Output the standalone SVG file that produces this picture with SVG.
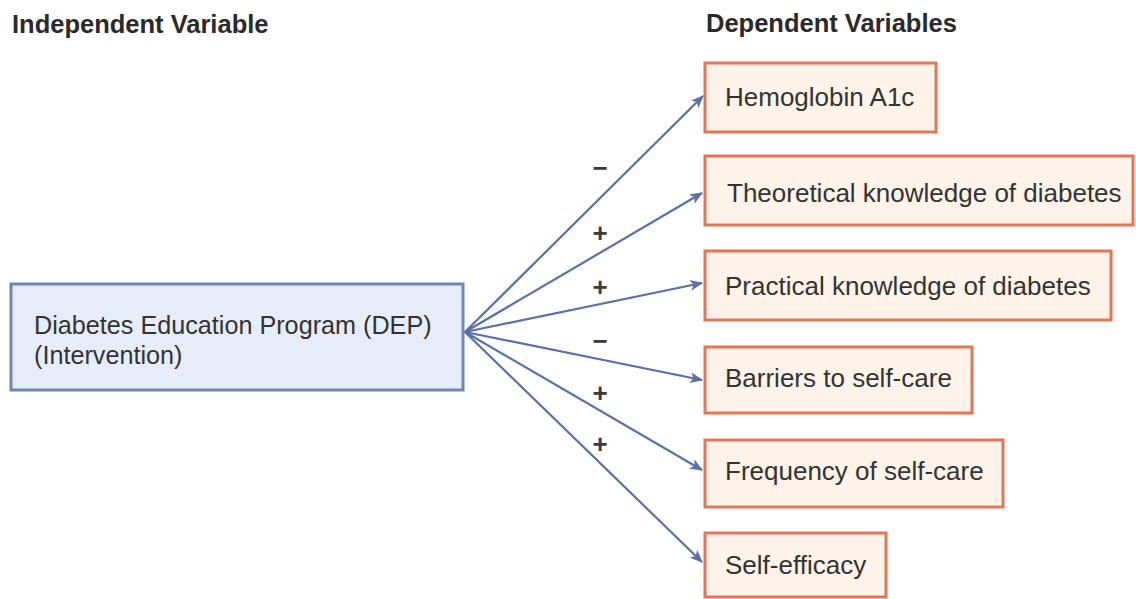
<svg xmlns="http://www.w3.org/2000/svg" width="1136" height="599" viewBox="0 0 1136 599">
  <defs>
    <marker id="arrow" viewBox="0 0 12 10" refX="11" refY="5" markerWidth="13" markerHeight="11" markerUnits="userSpaceOnUse" orient="auto">
      <path d="M0,0 L12,5 L0,10 L3,5 Z" fill="#5a70ab"/>
    </marker>
  </defs>
  <style>
    .title { font-family: "Liberation Sans", Arial, sans-serif; font-weight: bold; font-size: 25.5px; fill: #2a2a2a; }
    .lbl { font-family: "Liberation Sans", Arial, sans-serif; font-size: 26px; fill: #333333; }
    .lbl.iv-text { font-size: 25.2px; }
    .dv rect { fill: #fdf3e8; stroke: #e27656; stroke-width: 3; }
    .iv rect { fill: #e7edf8; stroke: #6f86b4; stroke-width: 3; }
    .link { fill: none; stroke: #5a70ab; stroke-width: 2.2; marker-end: url(#arrow); }
    .sign { font-family: "Liberation Sans", Arial, sans-serif; font-weight: bold; font-size: 26px; fill: #3a3a3a; text-anchor: middle; }
  </style>
  <rect width="1136" height="599" fill="#ffffff"/>

  <text class="title" x="12" y="33">Independent Variable</text>
  <text class="title" x="706" y="32">Dependent Variables</text>

  <g id="dep" class="iv">
    <rect x="11" y="284" width="452" height="106"/>
    <text class="lbl iv-text" x="34" y="334">Diabetes Education Program (DEP)</text>
    <text class="lbl iv-text" x="34" y="364">(Intervention)</text>
  </g>

  <g id="hba1c" class="dv">
    <rect x="705" y="63" width="231" height="69"/>
    <text class="lbl" x="725" y="106">Hemoglobin A1c</text>
  </g>
  <g id="theoretical" class="dv">
    <rect x="705" y="156" width="428" height="69"/>
    <text class="lbl" x="727" y="202">Theoretical knowledge of diabetes</text>
  </g>
  <g id="practical" class="dv">
    <rect x="705" y="251" width="406" height="69"/>
    <text class="lbl" x="725" y="295">Practical knowledge of diabetes</text>
  </g>
  <g id="barriers" class="dv">
    <rect x="705" y="347" width="267" height="66"/>
    <text class="lbl" x="725" y="387">Barriers to self-care</text>
  </g>
  <g id="frequency" class="dv">
    <rect x="705" y="440" width="298" height="67"/>
    <text class="lbl" x="725" y="480">Frequency of self-care</text>
  </g>
  <g id="efficacy" class="dv">
    <rect x="705" y="533" width="181" height="64"/>
    <text class="lbl" x="725" y="574">Self-efficacy</text>
  </g>

  <g id="connectors">
    <line class="link" x1="465" y1="332" x2="703" y2="96"/>
    <line class="link" x1="465" y1="332" x2="702" y2="193"/>
    <line class="link" x1="465" y1="332" x2="702" y2="283"/>
    <line class="link" x1="465" y1="332" x2="702" y2="380"/>
    <line class="link" x1="465" y1="332" x2="702" y2="470"/>
    <line class="link" x1="465" y1="332" x2="702" y2="562"/>
    <text class="sign" x="600" y="177">−</text>
    <text class="sign" x="600" y="242">+</text>
    <text class="sign" x="600" y="296">+</text>
    <text class="sign" x="600" y="350">−</text>
    <text class="sign" x="600" y="402">+</text>
    <text class="sign" x="600" y="453">+</text>
  </g>
</svg>
